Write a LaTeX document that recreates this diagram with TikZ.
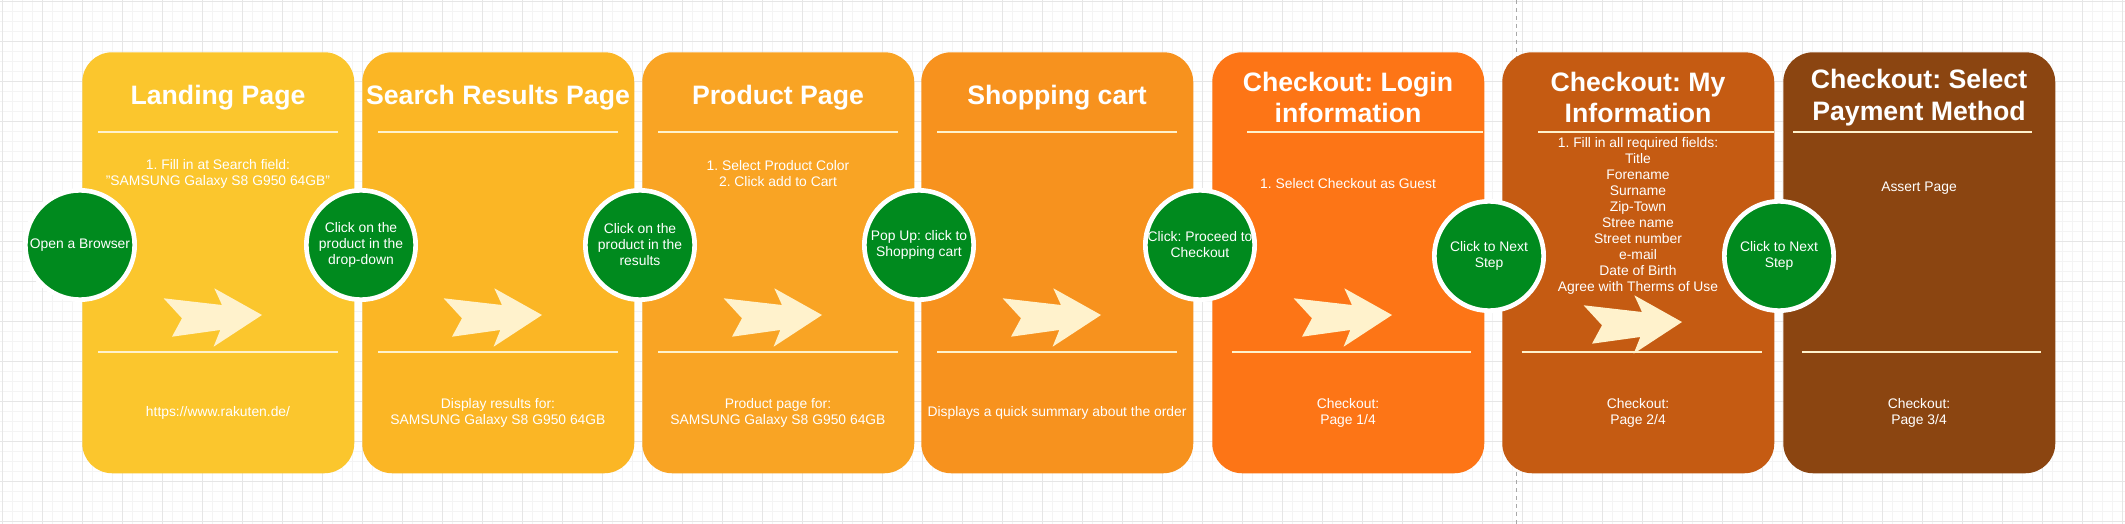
\documentclass[tikz,border=0pt]{standalone}
\usepackage{fontspec}
\setmainfont{Liberation Sans}
\usepackage{tikz}
\usetikzlibrary{positioning}
\definecolor{Land}{HTML}{FBC62D}
\definecolor{Search}{HTML}{FBB625}
\definecolor{Product}{HTML}{F9A424}
\definecolor{Cart}{HTML}{F7921E}
\definecolor{Login}{HTML}{FD7516}
\definecolor{MyInfo}{HTML}{C55B12}
\definecolor{Payment}{HTML}{8B4511}
\definecolor{Step}{HTML}{008A1E}
\definecolor{Cream}{HTML}{FFF2CC}
\definecolor{GridMinor}{HTML}{F4F4F4}
\definecolor{GridMajor}{HTML}{E6E6E6}
\definecolor{Break}{HTML}{A8A8A8}
\frenchspacing

\begin{document}
\begin{tikzpicture}[x=0.75pt,y=-0.75pt,
  pagebox/.style={fill=#1,rounded corners=22.5pt,minimum width=204pt,minimum height=315.75pt,inner sep=0pt,anchor=north west},
  titletext/.style={text=white,align=center,font=\fontsize{20}{23.7}\selectfont\bfseries,inner sep=0pt},
  bodytext/.style={text=white,align=center,font=\fontsize{10.4}{12}\selectfont,inner sep=0pt},
  sepline/.style={Cream,line width=1.6pt},
  stepdot/.style={circle,fill=Step,draw=white,line width=3.5pt,minimum size=82pt,inner sep=0pt,text=white,align=center,font=\fontsize{10.4}{12}\selectfont}]
\path[use as bounding box,fill=white] (0,0) rectangle (2125,524);

% background grid
\foreach \gx in {2.7,12.7,...,2122.7}{\draw[GridMinor,line width=0.75pt] (\gx,0) -- (\gx,524);}
\foreach \gy in {1.7,11.7,...,521.7}{\draw[GridMinor,line width=0.75pt] (0,\gy) -- (2125,\gy);}
\foreach \gx in {2.7,42.7,...,2122.7}{\draw[GridMajor,line width=0.75pt] (\gx,0) -- (\gx,524);}
\foreach \gy in {1.7,41.7,...,521.7}{\draw[GridMajor,line width=0.75pt] (0,\gy) -- (2125,\gy);}
\draw[Break,line width=0.75pt,dash pattern=on 3pt off 3pt] (1516.7,0) -- (1516.7,524);

% page columns
\foreach \i/\xl/\col in {1/82/Land,2/362/Search,3/642/Product,4/921/Cart,5/1212/Login,6/1502/MyInfo,7/1783/Payment}{
  \node[pagebox=\col] (p\i) at (\xl,52) {};
}
\foreach \i/\xc/\ty/\txt in {1/218/98/{Landing Page},2/498/98/{Search Results Page},3/778/98/{Product Page},4/1057/98/{Shopping cart},5/1348/97.5/{Checkout: Login\\information},6/1638/97.5/{Checkout: My\\Information},7/1919/97.5/{Checkout: Select\\Payment Method}}{
  \node[titletext] (t\i) at (\xc,\ty) {\txt};
}
\foreach \xl/\a/\b/\c/\d in {82/16/256/16/256,362/16/256/16/256,642/16/256/16/256,921/16/256/16/256,1212/35/271/20/259,1502/36/272/19.5/259.7,1783/10/249/19/258}{
  \draw[sepline] (\xl+\a,132) -- (\xl+\b,132);
  \draw[sepline] (\xl+\c,352) -- (\xl+\d,352);
}

% cream arrows
\foreach \xl/\ty in {82/315,362/315,642/315,921/315,1212/315,1502/322}{
  \fill[Cream,shift={(\xl+180,\ty)}] (-98.4,-16.7) -- (-40,-10) -- (-47.7,-26.7) -- (0,0) -- (-48.4,31.7) -- (-41.7,15) -- (-90,21.7) -- (-80,3.3) -- cycle;
}

% step texts
\node[bodytext] (d1) at (218,173.7) {1. Fill in at Search field:\\"SAMSUNG Galaxy S8 G950 64GB"};
\node[bodytext] (d3) at (778,173.7) {1. Select Product Color\\2. Click add to Cart};
\node[bodytext] (d5) at (1348,183.3) {1. Select Checkout as Guest};
\node[bodytext] (d6) at (1638,216.3) {1. Fill in all required fields:\\Title\\Forename\\Surname\\Zip-Town\\Stree name\\Street number\\e-mail\\Date of Birth\\Agree with Therms of Use};
\node[bodytext] (d7) at (1919,188.3) {Assert Page};

\node[bodytext] (f1) at (218,413.3) {https://www.rakuten.de/};
\node[bodytext] (f2) at (498,413.3) {Display results for:\\SAMSUNG Galaxy S8 G950 64GB};
\node[bodytext] (f3) at (778,413.3) {Product page for:\\SAMSUNG Galaxy S8 G950 64GB};
\node[bodytext] (f4) at (1057,413.3) {Displays a quick summary about the order};
\node[bodytext] (f5) at (1348,413.3) {Checkout:\\Page 1/4};
\node[bodytext] (f6) at (1638,413.3) {Checkout:\\Page 2/4};
\node[bodytext] (f7) at (1919,413.3) {Checkout:\\Page 3/4};

% green actions
\node[stepdot] (s1) at (80,245) {Open a Browser};
\node[stepdot] (s2) at (361,245) {Click on the\\product in the\\drop-down};
\node[stepdot] (s3) at (640,245) {Click on the\\product in the\\results};
\node[stepdot] (s4) at (919,245) {Pop Up: click to\\Shopping cart};
\node[stepdot] (s5) at (1200,245) {Click: Proceed to\\Checkout};
\node[stepdot] (s6) at (1489,256) {Click to Next\\Step};
\node[stepdot] (s7) at (1779,256) {Click to Next\\Step};
\end{tikzpicture}
\end{document}
